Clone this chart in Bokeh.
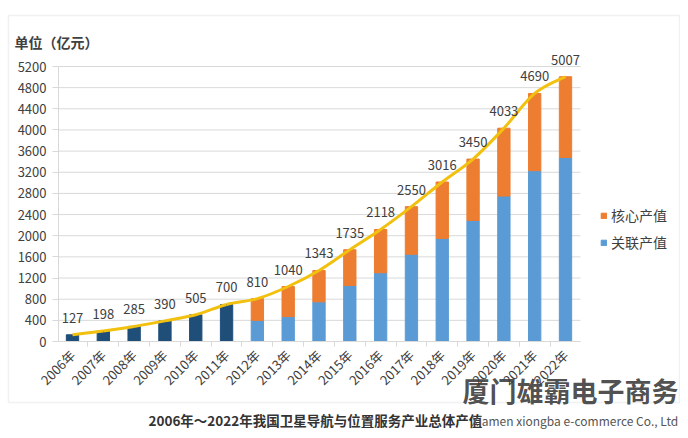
from bokeh.plotting import figure
from bokeh.models import (ColumnDataSource, FixedTicker, Legend, LegendItem,
                          Label, BoxAnnotation, Range1d, LinearAxis)
from bokeh.core.properties import value
from bokeh.embed import file_html
from bokeh.resources import INLINE

# ---- data ----
years = ["2006年", "2007年", "2008年", "2009年", "2010年", "2011年", "2012年",
         "2013年", "2014年", "2015年", "2016年", "2017年", "2018年", "2019年",
         "2020年", "2021年", "2022年"]
totals = [127, 198, 285, 390, 505, 700, 810, 1040, 1343, 1735, 2118, 2550,
          3016, 3450, 4033, 4690, 5007]
early_years = ["2006年", "2007年", "2008年", "2009年", "2010年", "2011年"]
early_values = [127, 198, 285, 390, 505, 700]
split_years = ["2012年", "2013年", "2014年", "2015年", "2016年", "2017年",
               "2018年", "2019年", "2020年", "2021年", "2022年"]
related = [400, 470, 750, 1060, 1300, 1650, 1950, 2290, 2750, 3230, 3480]   # 关联产值
core = [410, 570, 593, 675, 818, 900, 1066, 1160, 1283, 1460, 1527]        # 核心产值
y_ticks = list(range(0, 5201, 400))

FONT = "Noto Sans CJK SC"
NAVY = "#1f4e79"
BLUE = "#5b9bd5"
ORANGE = "#ed7d31"
GOLD = "#f2c10f"
GRID = "#d9d9d9"
TXT = "#404040"

W, H = 680, 430
# plot-area geometry (canvas pixels) -> ranges
PX_LEFT, PX_RIGHT, PX_TOP, PX_BOTTOM = 58, 580, 66, 341
PX_FIRST, PX_STEP = 72, 30.8125
Y_MAX = 5200
ux = 1.0 / PX_STEP
uy = Y_MAX / (PX_BOTTOM - PX_TOP)
X_LO, X_HI = -PX_FIRST * ux, (W - PX_FIRST) * ux
Y_LO, Y_HI = -(H - PX_BOTTOM) * uy, PX_BOTTOM * uy
AX_L = (PX_LEFT - PX_FIRST) * ux
AX_R = (PX_RIGHT - PX_FIRST) * ux

idx = {y: i for i, y in enumerate(years)}
n = len(years)
xs = list(range(n))

p = figure(width=W, height=H, output_backend="svg", toolbar_location=None,
           x_range=Range1d(X_LO, X_HI), y_range=Range1d(Y_LO, Y_HI),
           x_axis_location=None, y_axis_location=None,
           min_border=0, min_border_left=0, min_border_right=0,
           min_border_top=0, min_border_bottom=0)
p.outline_line_color = None
p.grid.visible = False

# horizontal gridlines (from tick list)
p.segment(x0=[AX_L] * len(y_ticks), x1=[AX_R] * len(y_ticks), y0=y_ticks,
          y1=y_ticks, line_color=GRID, line_width=1)

# dark bars
src_early = ColumnDataSource(dict(x=[idx[y] for y in early_years], top=early_values))
p.vbar(x="x", top="top", width=0.4, source=src_early, color=NAVY)

# stacked bars
src_split = ColumnDataSource(dict(x=[idx[y] for y in split_years],
                                  related=related, core=core))
rs = p.vbar_stack(["related", "core"], x="x", width=0.4, source=src_split,
                  color=[BLUE, ORANGE], line_color=[BLUE, ORANGE])

# smoothed total line (Catmull-Rom -> Bezier from the data points)
x0, y0, x1, y1, cx0, cy0, cx1, cy1 = [], [], [], [], [], [], [], []
for i in range(n - 1):
    pa = (xs[max(i - 1, 0)], totals[max(i - 1, 0)])
    pb = (xs[i], totals[i])
    pc = (xs[i + 1], totals[i + 1])
    pd = (xs[min(i + 2, n - 1)], totals[min(i + 2, n - 1)])
    x0.append(pb[0]); y0.append(pb[1]); x1.append(pc[0]); y1.append(pc[1])
    cx0.append(pb[0] + (pc[0] - pa[0]) / 6); cy0.append(pb[1] + (pc[1] - pa[1]) / 6)
    cx1.append(pc[0] - (pd[0] - pb[0]) / 6); cy1.append(pc[1] - (pd[1] - pb[1]) / 6)
p.bezier(x0=x0, y0=y0, x1=x1, y1=y1, cx0=cx0, cy0=cy0, cx1=cx1, cy1=cy1,
         line_color=GOLD, line_width=3)

# value labels
p.text(x=xs, y=totals, text=[str(v) for v in totals], text_font=value(FONT),
       text_font_size="13px", text_color=TXT, text_align="center",
       text_baseline="middle", y_offset=-17)

# axes drawn at fixed locations inside the full-canvas frame
yaxis = LinearAxis(fixed_location=AX_L, bounds=(0, Y_MAX),
                   ticker=FixedTicker(ticks=y_ticks))
yaxis.axis_line_color = GRID
yaxis.major_tick_line_color = GRID
yaxis.major_tick_out = 6
yaxis.major_tick_in = 0
yaxis.minor_tick_line_color = None
yaxis.major_label_text_font = FONT
yaxis.major_label_text_font_size = "13px"
yaxis.major_label_text_color = TXT
yaxis.major_label_standoff = 6
p.add_layout(yaxis, "left")

xaxis = LinearAxis(fixed_location=0, bounds=(AX_L, AX_R),
                   ticker=FixedTicker(ticks=xs, minor_ticks=[i + 0.5 for i in range(n - 1)]))
xaxis.major_label_overrides = {i: y for i, y in enumerate(years)}
xaxis.major_label_orientation = 0.785398
xaxis.axis_line_color = GRID
xaxis.major_tick_line_color = None
xaxis.minor_tick_line_color = GRID
xaxis.minor_tick_out = 5
xaxis.minor_tick_in = 0
xaxis.major_label_text_font = FONT
xaxis.major_label_text_font_size = "13px"
xaxis.major_label_text_color = TXT
xaxis.major_label_standoff = 5
p.add_layout(xaxis, "below")

# legend
legend = Legend(items=[LegendItem(label="核心产值", renderers=[rs[1]]),
                       LegendItem(label="关联产值", renderers=[rs[0]])],
                location=(600, 178), orientation="vertical",
                label_text_font=FONT, label_text_font_size="14px",
                label_text_color=TXT, glyph_width=7, glyph_height=7,
                label_standoff=4, label_height=14, spacing=7, padding=0,
                margin=0, border_line_color=None, background_fill_alpha=0)
p.add_layout(legend, "center")

# outer frame border
p.add_layout(BoxAnnotation(left=8, right=679, top=H - 15, bottom=H - 402,
                           left_units="screen", right_units="screen",
                           top_units="screen", bottom_units="screen",
                           fill_alpha=0, line_color="#d0d0d0", line_width=1.5))

# unit label
p.add_layout(Label(x=14, y=H - 41, x_units="screen", y_units="screen",
                   text="单位（亿元）", text_font=FONT, text_font_size="14px",
                   text_font_style="bold", text_color=TXT, text_baseline="middle"))

# caption below the chart
p.add_layout(Label(x=148, y=H - 419, x_units="screen", y_units="screen",
                   text="2006年～2022年我国卫星导航与位置服务产业总体产值",
                   text_font=FONT, text_font_size="13.5px", text_font_style="bold",
                   text_color="#333333", text_baseline="middle"))

# watermark
p.add_layout(Label(x=462, y=H - 390, x_units="screen", y_units="screen",
                   text="厦门雄霸电子商务", text_font=FONT, text_font_size="27px",
                   text_font_style="bold", text_color="#3a3a3a", text_alpha=0.9,
                   text_baseline="middle"))
p.add_layout(Label(x=471, y=H - 420, x_units="screen", y_units="screen",
                   text="Xiamen xiongba e-commerce Co., Ltd", text_font=FONT,
                   text_font_size="12px", text_color="#555555",
                   text_baseline="middle"))

open("out.html", "w").write(file_html(p, INLINE))
